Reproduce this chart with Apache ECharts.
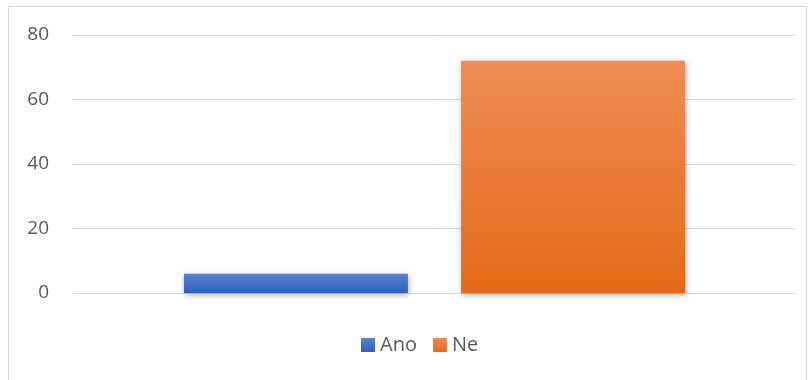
<!DOCTYPE html>
<html><head><meta charset="utf-8">
<script src="https://cdn.jsdelivr.net/npm/echarts@6/dist/echarts.min.js"></script>
<style>html,body{margin:0;padding:0;background:#fff}#c{width:811px;height:380px}</style>
</head><body><div id="c"></div>
<script>
const categories = [''];
const seriesNames = ['Ano', 'Ne'];
const anoValues = [6];
const neValues = [72];
const yTicks = [0, 20, 40, 60, 80];

const chart = echarts.init(document.getElementById('c'));
function grad(top, bottom) {
  return new echarts.graphic.LinearGradient(0, 0, 0, 1, [{offset: 0, color: top}, {offset: 1, color: bottom}]);
}
chart.setOption({
  animation: false,
  graphic: [{type: 'rect', shape: {x: 8.5, y: 6.5, width: 798, height: 380}, style: {fill: 'none', stroke: '#d9d9d9', lineWidth: 1}, silent: true}],
  grid: {left: 73, right: 15, top: 35, bottom: 87},
  legend: {
    data: seriesNames, top: 335, left: 361, itemWidth: 14, itemHeight: 14, itemGap: 16, padding: 0,
    icon: 'rect',
    textStyle: {fontFamily: 'Open Sans', fontSize: 20, color: '#595959'}
  },
  xAxis: {type: 'category', data: categories, axisLine: {lineStyle: {color: '#d9d9d9'}}, axisTick: {show: false}, axisLabel: {show: false}},
  yAxis: {
    type: 'value', min: yTicks[0], max: yTicks[yTicks.length - 1], interval: 20,
    axisLine: {show: false}, axisTick: {show: false},
    splitLine: {lineStyle: {color: '#d9d9d9', width: 1}},
    axisLabel: {fontFamily: 'Open Sans', fontSize: 19, color: '#595959', margin: 24}
  },
  series: [
    {name: seriesNames[0], type: 'bar', data: anoValues, barWidth: 224, barGap: '23.7%',
     itemStyle: {color: grad('#5a82d0', '#2e5fb9'), shadowColor: 'rgba(0,0,0,0.3)', shadowBlur: 6, shadowOffsetX: 1, shadowOffsetY: 2}},
    {name: seriesNames[1], type: 'bar', data: neValues, barWidth: 224,
     itemStyle: {color: grad('#f08c55', '#e46a18'), shadowColor: 'rgba(0,0,0,0.3)', shadowBlur: 6, shadowOffsetX: 1, shadowOffsetY: 2}}
  ]
});
</script></body></html>
